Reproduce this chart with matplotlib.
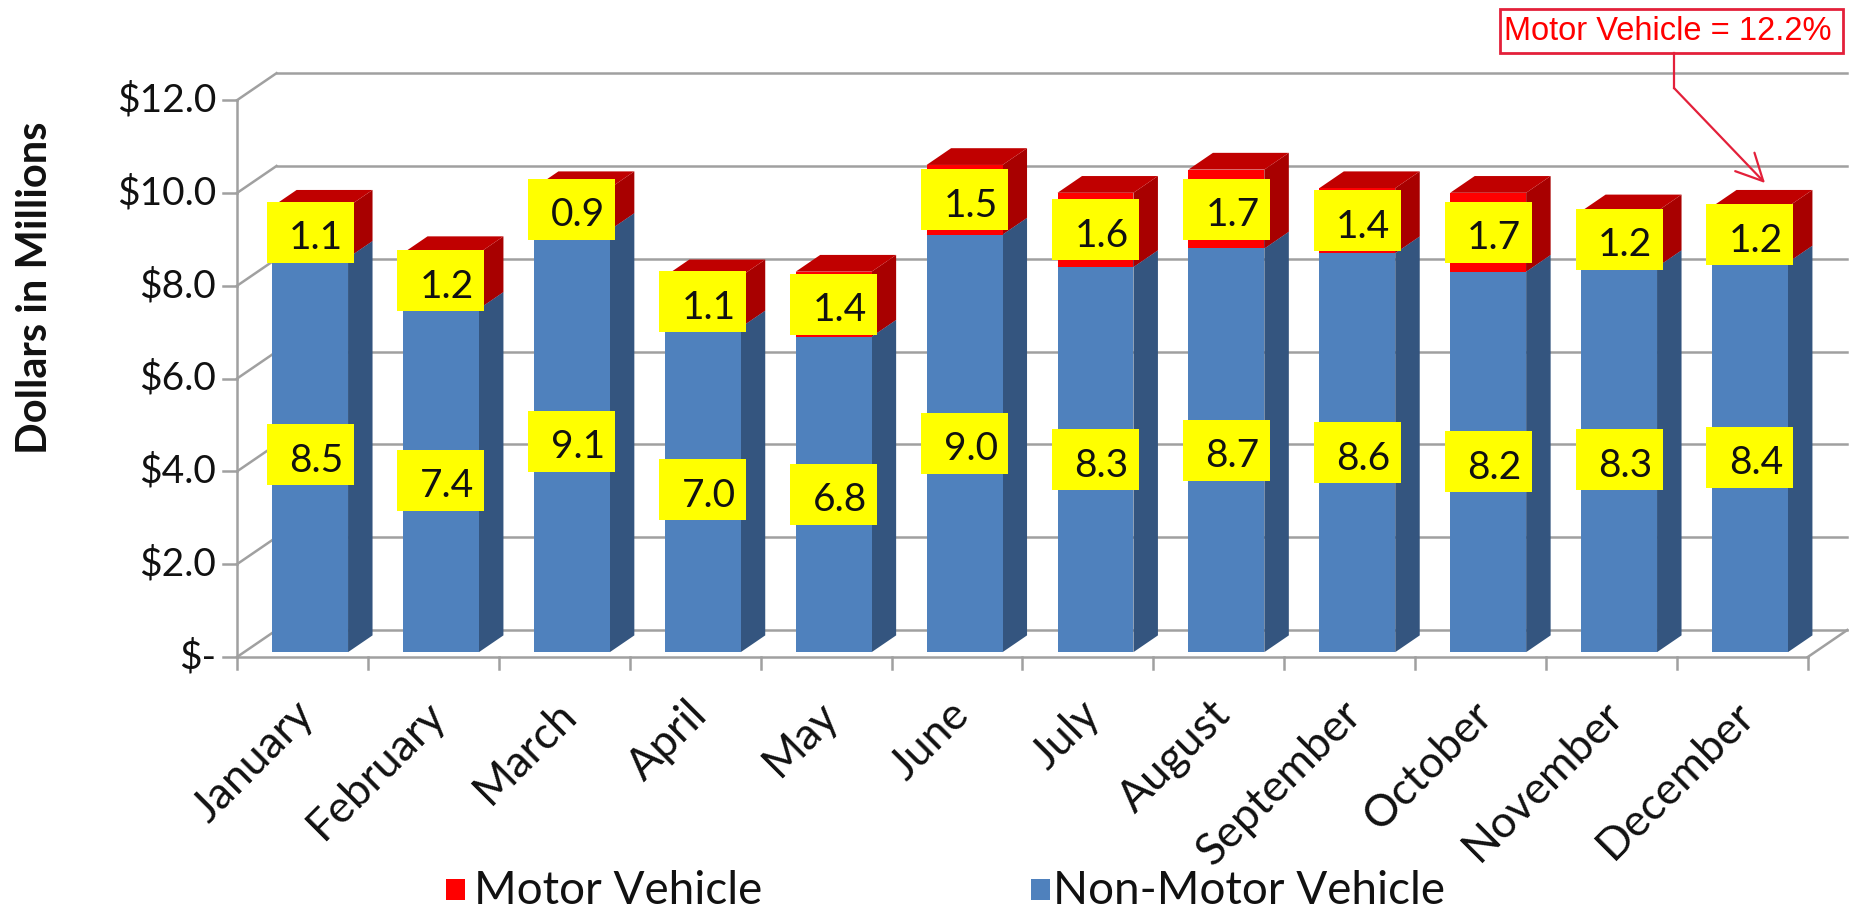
import matplotlib
matplotlib.use('Agg')
import matplotlib.pyplot as plt
from matplotlib.patches import Polygon, Rectangle

# data
months = ['January', 'February', 'March', 'April', 'May', 'June', 'July',
          'August', 'September', 'October', 'November', 'December']
non_motor = [8.5, 7.4, 9.1, 7.0, 6.8, 9.0, 8.3, 8.7, 8.6, 8.2, 8.3, 8.4]
motor = [1.1, 1.2, 0.9, 1.1, 1.4, 1.5, 1.6, 1.7, 1.4, 1.7, 1.2, 1.2]
yticks = [0, 2, 4, 6, 8, 10, 12]
ytick_labels = ['\\$-', '\\$2.0', '\\$4.0', '\\$6.0', '\\$8.0', '\\$10.0', '\\$12.0']
motor_share = '12.2%'

plt.rcParams['font.family'] = ['Lato', 'DejaVu Sans']

W, H = 1860, 914
# pixel layout of the fake 3d box
X0, Y0 = 237, 657      # front origin of the plot box
SX, SY = 130.9, 46.4   # pixels per category / per million
DX, DY = 39.5 / SX, 27 / SY   # depth offset of the back wall
Z0, Z1 = 0.18, 0.80    # bar depth range
BX, BW = 0.214, 0.58   # bar offset and width inside a slot

def px(x):
    return (x - X0) / SX

def py(y):
    return (Y0 - y) / SY

fig = plt.figure(figsize=(W / 100, H / 100), dpi=100)
ax = fig.add_axes([0, 0, 1, 1])
ax.set_xlim(px(0), px(W))
ax.set_ylim(py(H), py(0))
ax.axis('off')

grid = '#A0A0A0'
glw = 1.8
n = len(months)
for v in yticks:
    ax.plot([DX, n + DX], [v + DY, v + DY], color=grid, lw=glw, zorder=1)
    ax.plot([0, DX], [v, v + DY], color=grid, lw=glw, zorder=1)
    ax.plot([-14 / SX, 0], [v, v], color=grid, lw=glw, zorder=1)
ax.plot([0, 0], [0, yticks[-1]], color=grid, lw=glw, zorder=1)
ax.plot([0, n], [0, 0], color=grid, lw=glw, zorder=1)
ax.plot([n, n + DX], [0, DY], color=grid, lw=glw, zorder=1)
for i in range(n + 1):
    ax.plot([i, i], [0, -12 / SY], color=grid, lw=glw, zorder=1)

for v, lab in zip(yticks, ytick_labels):
    ax.text(px(216), v, lab, ha='right', va='center', fontsize=28, color='#111111')


def bar3d(i, bottom, top, front, side, topc):
    x0 = i + BX
    x1 = x0 + BW
    f = [(x0 + Z0 * DX, bottom + Z0 * DY), (x1 + Z0 * DX, bottom + Z0 * DY),
         (x1 + Z0 * DX, top + Z0 * DY), (x0 + Z0 * DX, top + Z0 * DY)]
    s = [(x1 + Z0 * DX, bottom + Z0 * DY), (x1 + Z1 * DX, bottom + Z1 * DY),
         (x1 + Z1 * DX, top + Z1 * DY), (x1 + Z0 * DX, top + Z0 * DY)]
    t = [(x0 + Z0 * DX, top + Z0 * DY), (x1 + Z0 * DX, top + Z0 * DY),
         (x1 + Z1 * DX, top + Z1 * DY), (x0 + Z1 * DX, top + Z1 * DY)]
    ax.add_patch(Polygon(s, closed=True, fc=side, ec='none', zorder=3))
    ax.add_patch(Polygon(t, closed=True, fc=topc, ec='none', zorder=3))
    ax.add_patch(Polygon(f, closed=True, fc=front, ec='none', zorder=3))


def value_box(xc, yc, txt):
    bw, bh = 87 / SX, 61 / SY
    ax.add_patch(Rectangle((xc - bw / 2, yc - bh / 2), bw, bh,
                           fc='#FFFF00', ec='none', zorder=5))
    ax.text(xc + 6 / SX, yc - 17 / SY, txt, ha='center', va='baseline', fontsize=28,
            color='#111111', zorder=6)


for i in range(n):
    nm, m = non_motor[i], motor[i]
    bar3d(i, 0, nm, '#4F81BD', '#34557F', '#4F81BD')
    bar3d(i, nm, nm + m, '#FF0000', '#A80000', '#C00000')
    xc = i + BX + BW / 2 + Z0 * DX
    value_box(xc, Z0 * DY + nm / 2, f'{nm:.1f}')
    value_box(xc, Z0 * DY + nm + m / 2, f'{m:.1f}')
    ax.text(i + 0.54, -1.1, months[i], rotation=45, rotation_mode='anchor',
            ha='right', va='center', fontsize=32, color='#111111')

ax.text(px(35), py(288), 'Dollars in Millions', rotation=90, ha='center',
        va='center', fontsize=30, fontweight='bold', color='#111111')

# legend
ax.add_patch(Rectangle((px(446), py(900)), 19 / SX, 21 / SY, fc='#FF0000', ec='none'))
ax.text(px(474), py(891), 'Motor Vehicle', ha='left', va='center', fontsize=33, color='#111111')
ax.add_patch(Rectangle((px(1031), py(900)), 19 / SX, 21 / SY, fc='#4F81BD', ec='none'))
ax.text(px(1053), py(891), 'Non-Motor Vehicle', ha='left', va='center', fontsize=33, color='#111111')

# callout
red = '#E3203A'
ax.add_patch(Rectangle((px(1500), py(53)), 343 / SX, 44 / SY, fc='white', ec=red, lw=2, zorder=7))
ax.text(px(1504), py(40), 'Motor Vehicle = ' + motor_share, ha='left', va='baseline',
        fontsize=23.5, family='Liberation Sans', color='#FF0000', zorder=8)
ax.plot([px(1674), px(1674)], [py(53), py(88)], color=red, lw=1.6, zorder=7)
ax.annotate('', xy=(px(1765), py(183)), xytext=(px(1674), py(88)),
            arrowprops=dict(arrowstyle='->', color=red, lw=1.6, mutation_scale=48,
                            shrinkA=0, shrinkB=0), zorder=7)

fig.savefig('out.png', dpi=100)
